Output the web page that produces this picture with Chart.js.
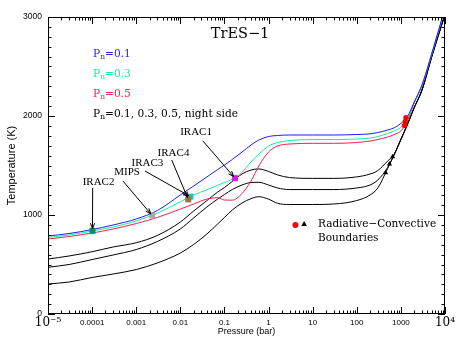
<!DOCTYPE html>
<html>
<head>
<meta charset="utf-8">
<script src="https://cdn.jsdelivr.net/npm/chart.js@4.4.1/dist/chart.umd.min.js"></script>
<style>
  html, body { margin: 0; padding: 0; background: #fff; }
  #wrap { width: 474px; height: 354px; position: relative; }
</style>
</head>
<body>
<div id="wrap"><canvas id="tp"></canvas></div>
<script>
// pressure grid (bar) shared by every profile
const pressure = [1e-5, 3e-5, 1e-4, 3e-4, 1e-3, 3e-3, 0.01, 0.02, 0.04, 0.07, 0.1, 0.15, 0.25, 0.4, 0.6, 1, 1.6, 3, 10, 30, 100, 200, 300, 500, 700, 1000, 1400, 2000, 3000, 5000, 10000];

// day side profiles (K)
const tPn01 = [788, 813, 853, 899, 960, 1045, 1202, 1293, 1384, 1459, 1505, 1560, 1636, 1707, 1757, 1793, 1803, 1808, 1808, 1808, 1813, 1820, 1833, 1858, 1880, 1925, 1990, 2141, 2313, 2630, 3090];
const tPn03 = [773, 798, 838, 879, 939, 1018, 1134, 1202, 1254, 1300, 1328, 1360, 1434, 1535, 1616, 1697, 1732, 1752, 1762, 1762, 1768, 1778, 1793, 1823, 1850, 1885, 1965, 2136, 2308, 2626, 3085];
const tPn05 = [757, 783, 818, 859, 914, 975, 1060, 1111, 1161, 1175, 1151, 1150, 1217, 1343, 1495, 1636, 1697, 1717, 1724, 1724, 1732, 1747, 1762, 1788, 1812, 1850, 1945, 2131, 2303, 2622, 3080];

// night side profiles (K), Pn = 0.1, 0.3, 0.5
const tNight1 = [555, 586, 629, 677, 720, 793, 929, 1040, 1146, 1232, 1278, 1338, 1414, 1454, 1465, 1440, 1405, 1378, 1370, 1370, 1385, 1414, 1449, 1545, 1610, 1765, 1914, 2086, 2262, 2601, 3030];
const tNight2 = [472, 500, 550, 596, 651, 732, 859, 970, 1081, 1161, 1207, 1257, 1303, 1328, 1330, 1303, 1273, 1257, 1257, 1257, 1273, 1303, 1353, 1480, 1608, 1763, 1912, 2084, 2260, 2599, 3028];
const tNight3 = [303, 323, 369, 404, 449, 515, 616, 702, 808, 909, 975, 1050, 1121, 1165, 1185, 1160, 1118, 1106, 1106, 1111, 1146, 1202, 1273, 1470, 1606, 1761, 1910, 2082, 2258, 2597, 3026];

// radiative-convective boundaries
const rcbDayP = [1300, 1250, 1200];
const rcbDayT = [1985, 1945, 1905];
const rcbNightP = [650, 550, 450];
const rcbNightT = [1589, 1515, 1427];

// photosphere of each band
const bandNames = ['IRAC4', 'IRAC3', 'IRAC1', 'MIPS', 'IRAC2'];
const bandP = [0.0151, 0.017, 0.174, 0.0023, 1.02e-4];
const bandT = [1158, 1185, 1372, 995, 840];
const bandColors = ['#a06c38', '#14c6cc', '#e012ee', '#a8a8a8', '#00906a'];
// where the band labels sit and where their arrows start
const bandLabelP = [0.0070, 0.0018, 0.0227, 6.2e-4, 1.4e-4];
const bandLabelT = [1626, 1525, 1833, 1429, 1333];
const arrowFromP = [0.00638, 0.00158, 0.0322, 5.0e-4, 1.03e-4];
const arrowFromT = [1555, 1444, 1750, 1343, 1273];

const xTickLabels = ['10\u207B\u2075', '0.0001', '0.001', '0.01', '0.1', '1', '10', '100', '1000', '10\u2074'];
const yTickLabels = ['0', '1000', '2000', '3000'];

const colPn01 = '#1d1dff', colPn03 = '#12eea0', colPn05 = '#ff1c4c';
const serif = "'Liberation Serif', 'DejaVu Serif', serif";
const wideSerif = "'DejaVu Serif', serif";
const sans = "'Liberation Sans', Arial, sans-serif";

function curve(temps) { return pressure.map((p, i) => ({x: p, y: temps[i]})); }
function pts(ps, ts) { return ps.map((p, i) => ({x: p, y: ts[i]})); }

const datasets = [];
bandNames.forEach((name, i) => {
  datasets.push({label: name, data: [{x: bandP[i], y: bandT[i]}], pointStyle: 'rect', pointRadius: 4.2,
    backgroundColor: bandColors[i], borderWidth: 0});
});
datasets.push({label: 'rcb day', data: pts(rcbDayP, rcbDayT), pointStyle: 'circle', pointRadius: 2.6, backgroundColor: '#ff0000', borderWidth: 0});
datasets.push({label: 'rcb night', data: pts(rcbNightP, rcbNightT), pointStyle: 'triangle', pointRadius: 3, backgroundColor: '#000', borderWidth: 0});
const lineStyle = {showLine: true, pointRadius: 0, borderWidth: 1, cubicInterpolationMode: 'monotone', fill: false};
datasets.push(Object.assign({label: 'Pn=0.1', data: curve(tPn01), borderColor: colPn01}, lineStyle));
datasets.push(Object.assign({label: 'Pn=0.3', data: curve(tPn03), borderColor: colPn03}, lineStyle));
datasets.push(Object.assign({label: 'Pn=0.5', data: curve(tPn05), borderColor: colPn05}, lineStyle));
[tNight1, tNight2, tNight3].forEach((t, i) => {
  datasets.push(Object.assign({label: 'night ' + i, data: curve(t), borderColor: '#000'}, lineStyle));
});

function isDecade(v) {
  const l = Math.log10(v);
  return Math.abs(l - Math.round(l)) < 1e-9;
}

function arrow(ctx, x0, y0, x1, y1) {
  const a = Math.atan2(y1 - y0, x1 - x0);
  const ex = x1 - 2 * Math.cos(a), ey = y1 - 2 * Math.sin(a);
  ctx.beginPath();
  ctx.moveTo(x0, y0); ctx.lineTo(ex, ey);
  ctx.moveTo(ex - 6 * Math.cos(a - 0.35), ey - 6 * Math.sin(a - 0.35));
  ctx.lineTo(ex, ey);
  ctx.lineTo(ex - 6 * Math.cos(a + 0.35), ey - 6 * Math.sin(a + 0.35));
  ctx.stroke();
}

function pnText(ctx, x, y, rest, color) {
  ctx.fillStyle = color;
  ctx.font = '10.6px ' + wideSerif;
  ctx.fillText('P', x, y);
  let w = ctx.measureText('P').width;
  ctx.font = '7.5px ' + wideSerif;
  ctx.fillText('n', x + w, y + 2.5);
  w += ctx.measureText('n').width;
  ctx.font = '10.6px ' + wideSerif;
  ctx.fillText(rest, x + w, y);
}

const annotate = {
  id: 'annotate',
  afterDatasetsDraw(chart) {
    const {ctx, scales: {x, y}} = chart;
    ctx.save();
    ctx.textBaseline = 'alphabetic';
    ctx.textAlign = 'center';
    ctx.fillStyle = '#000';
    ctx.font = '14.5px ' + wideSerif;
    ctx.fillText('TrES\u22121', x.getPixelForValue(0.226), y.getPixelForValue(2788));

    ctx.textAlign = 'left';
    const lx = x.getPixelForValue(1.05e-4);
    pnText(ctx, lx, y.getPixelForValue(2599), '=0.1', colPn01);
    pnText(ctx, lx, y.getPixelForValue(2397), '=0.3', colPn03);
    pnText(ctx, lx, y.getPixelForValue(2195), '=0.5', colPn05);
    pnText(ctx, lx, y.getPixelForValue(1993), '=0.1, 0.3, 0.5, night side', '#000');

    // band labels and arrows
    ctx.strokeStyle = '#000';
    ctx.lineWidth = 1;
    ctx.fillStyle = '#000';
    ctx.font = '11px ' + serif;
    ctx.textAlign = 'center';
    ctx.textBaseline = 'middle';
    bandNames.forEach((name, i) => {
      ctx.fillText(name, x.getPixelForValue(bandLabelP[i]), y.getPixelForValue(bandLabelT[i]));
      arrow(ctx, x.getPixelForValue(arrowFromP[i]), y.getPixelForValue(arrowFromT[i]),
        x.getPixelForValue(bandP[i]), y.getPixelForValue(bandT[i]));
    });

    // key for the boundaries
    const cx = x.getPixelForValue(4.06), cy = y.getPixelForValue(899);
    ctx.fillStyle = '#ff0000';
    ctx.beginPath(); ctx.arc(cx, cy, 3, 0, Math.PI * 2); ctx.fill();
    const tx = x.getPixelForValue(6.4), ty = y.getPixelForValue(909);
    ctx.fillStyle = '#000';
    ctx.beginPath();
    ctx.moveTo(tx, ty - 3); ctx.lineTo(tx + 2.8, ty + 2); ctx.lineTo(tx - 2.8, ty + 2);
    ctx.closePath(); ctx.fill();
    ctx.textAlign = 'left';
    ctx.textBaseline = 'alphabetic';
    ctx.font = '10.5px ' + wideSerif;
    const kx = x.getPixelForValue(13.2);
    ctx.fillText('Radiative\u2212Convective', kx, y.getPixelForValue(882));
    ctx.fillText('Boundaries', kx, y.getPixelForValue(737));
    ctx.restore();
  },
  afterDraw(chart) {
    const {ctx, chartArea: a, scales: {x, y}} = chart;
    ctx.save();
    ctx.strokeStyle = '#000';
    ctx.lineWidth = 1;
    ctx.strokeRect(a.left + 0.5, a.top + 0.5, a.right - a.left - 1, a.bottom - a.top - 1);
    ctx.beginPath();
    x.ticks.forEach(t => {
      const px = Math.round(x.getPixelForValue(t.value)) + 0.5;
      const len = isDecade(t.value) ? 7 : 3.5;
      ctx.moveTo(px, a.bottom); ctx.lineTo(px, a.bottom - len);
      ctx.moveTo(px, a.top); ctx.lineTo(px, a.top + len);
    });
    y.ticks.forEach(t => {
      const py = Math.round(y.getPixelForValue(t.value)) + 0.5;
      const len = t.value % 1000 === 0 ? 7 : 3.5;
      ctx.moveTo(a.left, py); ctx.lineTo(a.left + len, py);
      ctx.moveTo(a.right, py); ctx.lineTo(a.right - len, py);
    });
    ctx.stroke();
    ctx.restore();
  }
};

new Chart(document.getElementById('tp'), {
  type: 'scatter',
  data: {datasets: datasets},
  options: {
    responsive: true,
    maintainAspectRatio: false,
    animation: false,
    layout: {padding: {left: 0, right: 29, top: 17, bottom: 0}},
    plugins: {legend: {display: false}, tooltip: {enabled: false}},
    scales: {
      x: {
        type: 'logarithmic',
        min: 1e-5,
        max: 1e4,
        grid: {display: false, drawTicks: false, tickLength: 0},
        border: {display: false},
        afterBuildTicks: scale => {
          const ticks = [];
          for (let e = -5; e <= 4; e++) {
            for (let m = 1; m <= 9; m++) {
              const v = Number((m * Math.pow(10, e)).toPrecision(6));
              if (v <= 1e4) ticks.push({value: v});
            }
          }
          scale.ticks = ticks;
        },
        afterFit: scale => { scale.height = 40; scale.paddingLeft = 0; scale.paddingRight = 0; },
        ticks: {
          autoSkip: false,
          maxRotation: 0,
          minRotation: 0,
          padding: 4,
          color: '#000',
          font: ctx => {
            const v = ctx.tick ? ctx.tick.value : 0;
            return (v === 1e-5 || v === 1e4) ? {family: wideSerif, size: 12, lineHeight: 0.8} : {family: sans, size: 8};
          },
          callback: v => isDecade(v) ? xTickLabels[Math.round(Math.log10(v)) + 5] : ''
        },
        title: {display: true, text: 'Pressure (bar)', color: '#000', font: {family: sans, size: 9}, padding: {top: 0, bottom: 17}}
      },
      y: {
        min: 0,
        max: 3000,
        grid: {display: false, drawTicks: false, tickLength: 0},
        border: {display: false},
        afterBuildTicks: scale => {
          const ticks = [];
          for (let v = 0; v <= 3000; v += 100) ticks.push({value: v});
          scale.ticks = ticks;
        },
        afterFit: scale => { scale.width = 48; scale.paddingTop = 0; scale.paddingBottom = 0; },
        ticks: {
          autoSkip: false,
          padding: 6,
          color: '#000',
          font: {family: sans, size: 8.5},
          callback: v => v % 1000 === 0 ? yTickLabels[v / 1000] : ''
        },
        title: {display: true, text: 'Temperature (K)', color: '#000', font: {family: sans, size: 11}, padding: {top: 5, bottom: 0}}
      }
    }
  },
  plugins: [annotate]
});
</script>
</body>
</html>
